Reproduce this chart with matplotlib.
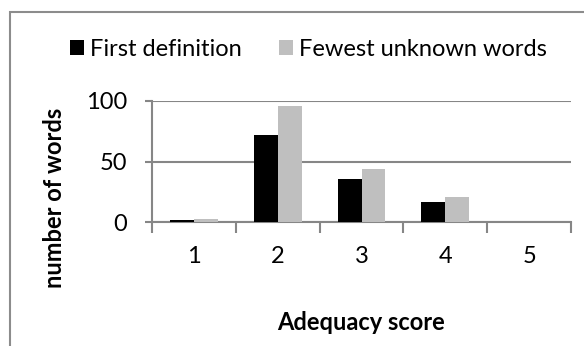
import matplotlib
matplotlib.use("Agg")
import matplotlib.pyplot as plt
import matplotlib.patches as mpatches
import numpy as np

# data
scores = [1, 2, 3, 4, 5]
first_definition = [2, 72, 36, 17, 0]
fewest_unknown = [3, 96, 44, 21, 0]
series_names = ["First definition", "Fewest unknown words"]

W, H = 584, 346
plt.rcParams['font.family'] = ['Lato', 'DejaVu Sans']
axis_grey = "#868686"

fig = plt.figure(figsize=(W / 100, H / 100), dpi=100)
ax = fig.add_axes([152 / W, 1 - 222.3 / H, (571 - 152) / W, (222.3 - 100.7) / H])

x = np.arange(len(scores))
bw = 0.286
b1 = ax.bar(x - bw / 2, first_definition, bw, color="black", zorder=3)
b2 = ax.bar(x + bw / 2, fewest_unknown, bw, color="#bfbfbf", zorder=3)

ax.set_xlim(-0.5, len(scores) - 0.5)
ax.set_ylim(0, 100)
ax.set_yticks([0, 50, 100])
ax.yaxis.grid(True, color=axis_grey, linewidth=1.5, zorder=0)

# ticks on category boundaries, labels in the middle
ax.set_xticks(np.arange(len(scores) + 1) - 0.5)
ax.set_xticklabels([])
ax.set_xticks(x, minor=True)
ax.set_xticklabels([str(s) for s in scores], minor=True)
ax.tick_params(axis="x", which="major", length=8, width=1.5, color=axis_grey)
ax.tick_params(axis="x", which="minor", length=0, pad=17, labelsize=17)
ax.tick_params(axis="y", length=5, width=1.5, color=axis_grey, pad=13, labelsize=17)

for s in ["top", "right"]:
    ax.spines[s].set_visible(False)
for s in ["left", "bottom"]:
    ax.spines[s].set_color(axis_grey)
    ax.spines[s].set_linewidth(1.5)

fig.text(361.5 / W, 1 - 323 / H, "Adequacy score", ha="center", va="center",
         fontsize=17, fontweight="bold")
fig.text(55 / W, 1 - 197.5 / H, "number of words", ha="center", va="center",
         rotation=90, fontsize=17, fontweight="bold")

fig.legend([b1, b2], series_names, loc="center", bbox_to_anchor=(308.5 / W, 1 - 49 / H),
           ncol=2, frameon=False, fontsize=17, handlelength=0.6, handleheight=0.6,
           handletextpad=0.25, columnspacing=1.6)

# outer chart border (right and bottom edges fall outside the picture)
border = mpatches.Rectangle((10 / W, -0.1), 1.2, 1 - 12 / H + 0.1, transform=fig.transFigure,
                            fill=False, edgecolor="#8c8c8c", linewidth=1.5, clip_on=False)
fig.add_artist(border)

fig.savefig("out.png", dpi=100)
